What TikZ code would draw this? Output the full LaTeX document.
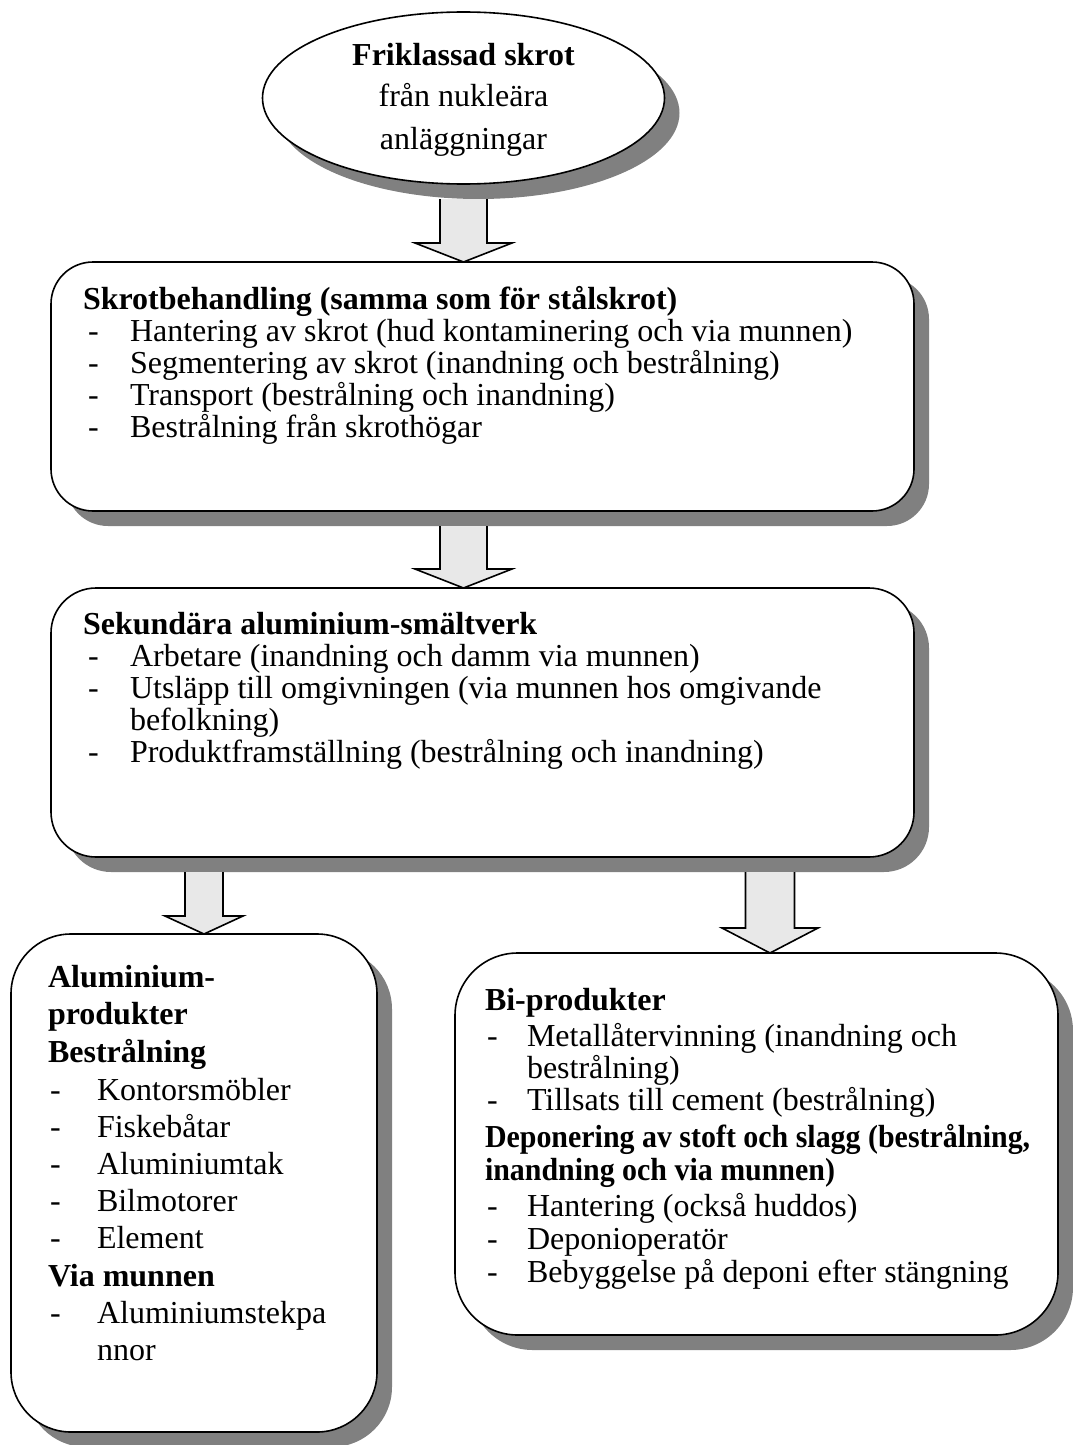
\documentclass[tikz,border=0pt]{standalone}
\usepackage{fontspec}
\usepackage{graphicx}
\setmainfont{Liberation Serif}
\usetikzlibrary{shapes.geometric,shadows,calc}
\definecolor{shade}{RGB}{128,128,128}
\definecolor{arrowfill}{RGB}{232,232,232}

% dash + text line of a list entry: name, dash x, text x, baseline y, text
\newcommand{\listentry}[5]{%
  \node[txt] (#1-d) at (#2,#4) {-};
  \node[txt] (#1) at (#3,#4) {#5};}
% hollow block arrow: top coordinate, tip coordinate, half shaft, half head, head length
\newcommand{\blockarrow}[5]{%
  \draw[barrow] ($(#1)+(-#3,0)$) -- ($(#2)+(-#3,-#5)$) -- ($(#2)+(-#4,-#5)$)
    -- (#2) -- ($(#2)+(#4,-#5)$) -- ($(#2)+(#3,-#5)$) -- ($(#1)+(#3,0)$);}
% bold line set a little narrower so that it fits its panel
\newcommand{\narrow}[1]{\scalebox{0.935}[1]{#1}}

\begin{document}
\begin{tikzpicture}[x=0.75pt,y=-0.75pt,
  every node/.style={inner sep=0pt,outer sep=0pt},
  shaded/.style={drop shadow={shadow xshift=11.25pt,shadow yshift=-11.25pt,fill=shade,opacity=1}},
  panel/.style={draw,line width=1.2pt,fill=white,rectangle,anchor=north west,shaded},
  oval/.style={draw,line width=1.2pt,fill=white,ellipse,shaded},
  barrow/.style={draw,line width=1.2pt,fill=arrowfill,line join=miter},
  txt/.style={anchor=base west,font=\fontsize{24}{24}\selectfont},
  hd/.style={anchor=base west,font=\fontsize{24}{24}\selectfont\bfseries},
  ctr/.style={anchor=base,font=\fontsize{24}{24}\selectfont}]
\useasboundingbox (0,0) rectangle (1073,1445);

% source
\node[oval,minimum width=301.5pt,minimum height=129pt] (src) at (463.5,98) {};
\node[ctr,font=\fontsize{24}{24}\selectfont\bfseries] (src1) at (463.5,65) {Friklassad skrot};
\node[ctr] (src2) at (463.5,107) {från nukleära};
\node[ctr] (src3) at (463.5,149) {anläggningar};

% panels
\node[panel,rounded corners=31.5pt,minimum width=647.25pt,minimum height=186.75pt] (b1) at (51,262) {};
\node[panel,rounded corners=33.75pt,minimum width=647.25pt,minimum height=201.75pt] (b2) at (51,588) {};
\node[panel,rounded corners=45pt,minimum width=274.5pt,minimum height=373.5pt] (b3) at (11,934) {};
\node[panel,rounded corners=47pt,minimum width=452.25pt,minimum height=286.5pt] (b4) at (455,953) {};

% arrows
\coordinate (a1s) at (463.5,199); \coordinate (a1t) at (463.5,262);
\coordinate (a2s) at (463.5,526); \coordinate (a2t) at (463.5,588);
\coordinate (a3s) at (204,872);   \coordinate (a3t) at (204,934);
\coordinate (a4s) at (770,872);   \coordinate (a4t) at (770,953);
\blockarrow{a1s}{a1t}{23.5}{48.5}{19}
\blockarrow{a2s}{a2t}{23.5}{48.5}{19}
\blockarrow{a3s}{a3t}{19}{39}{18}
\blockarrow{a4s}{a4t}{24.5}{48}{25}

% scrap handling
\node[hd] (b1h) at (83,309) {Skrotbehandling (samma som för stålskrot)};
\listentry{b1i1}{88}{130}{341}{Hantering av skrot (hud kontaminering och via munnen)}
\listentry{b1i2}{88}{130}{373}{Segmentering av skrot (inandning och bestrålning)}
\listentry{b1i3}{88}{130}{405}{Transport (bestrålning och inandning)}
\listentry{b1i4}{88}{130}{437}{Bestrålning från skrothögar}

% smelters
\node[hd] (b2h) at (83,634) {Sekundära aluminium-smältverk};
\listentry{b2i1}{88}{130}{666}{Arbetare (inandning och damm via munnen)}
\listentry{b2i2}{88}{130}{698}{Utsläpp till omgivningen (via munnen hos omgivande}
\node[txt] (b2i2b) at (130,730) {befolkning)};
\listentry{b2i3}{88}{130}{762}{Produktframställning (bestrålning och inandning)}

% aluminium products
\node[hd] (b3h1) at (48,987) {Aluminium-};
\node[hd] (b3h2) at (48,1024) {produkter};
\node[hd] (b3h3) at (48,1062) {Bestrålning};
\listentry{b3i1}{50}{97}{1100}{Kontorsmöbler}
\listentry{b3i2}{50}{97}{1137}{Fiskebåtar}
\listentry{b3i3}{50}{97}{1174}{Aluminiumtak}
\listentry{b3i4}{50}{97}{1211}{Bilmotorer}
\listentry{b3i5}{50}{97}{1248}{Element}
\node[hd] (b3h4) at (48,1286) {Via munnen};
\listentry{b3i6}{50}{97}{1323}{Aluminiumstekpa}
\node[txt] (b3i6b) at (97,1360) {nnor};

% by-products
\node[hd] (b4h1) at (485,1010) {Bi-produkter};
\listentry{b4i1}{487}{527}{1046}{Metallåtervinning (inandning och}
\node[txt] (b4i1b) at (527,1078) {bestrålning)};
\listentry{b4i2}{487}{527}{1110}{Tillsats till cement (bestrålning)}
\node[hd] (b4h2) at (485,1147) {\narrow{Deponering av stoft och slagg (bestrålning,}};
\node[hd] (b4h3) at (485,1180) {\narrow{inandning och via munnen)}};
\listentry{b4i3}{487}{527}{1216}{Hantering (också huddos)}
\listentry{b4i4}{487}{527}{1249}{Deponioperatör}
\listentry{b4i5}{487}{527}{1282}{Bebyggelse på deponi efter stängning}
\end{tikzpicture}
\end{document}
